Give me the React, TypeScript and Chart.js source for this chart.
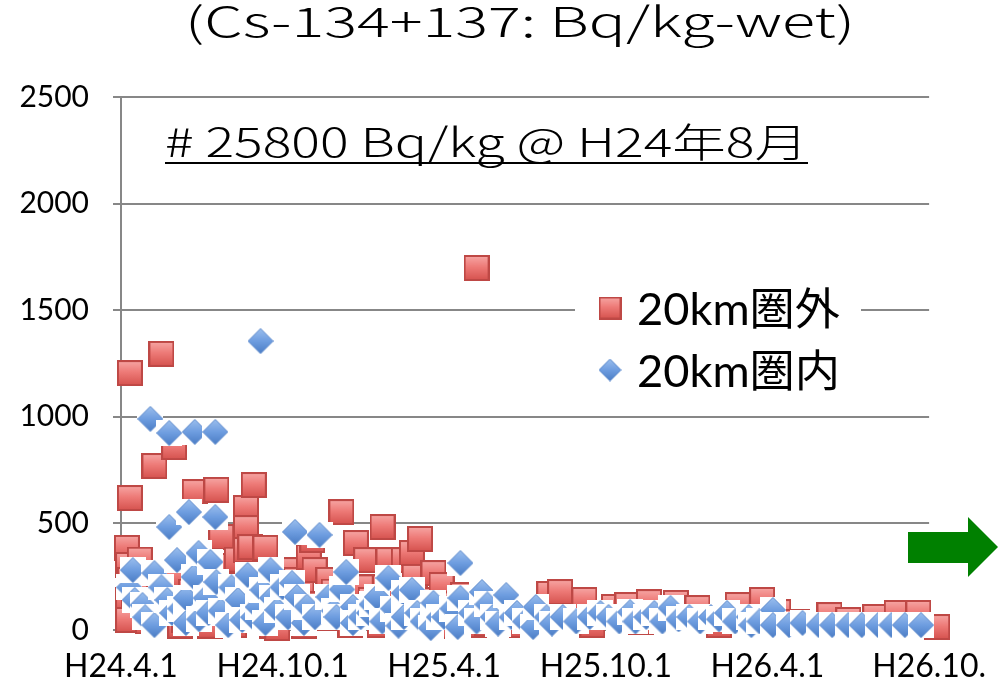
import React, { useEffect, useRef } from 'react';
import { Chart, registerables } from 'chart.js';

Chart.register(...registerables);

// ---- Data (x = months since H24.4.1, y = Bq/kg-wet) ----
const xTickLabels = ['H24.4.1', 'H24.10.1', 'H25.4.1', 'H25.10.1', 'H26.4.1', 'H26.10.'];
const yTickValues = [0, 500, 1000, 1500, 2000, 2500];

const seriesNames = ['20km圏外', '20km圏内'];
const titleText = '(Cs-134+137: Bq/kg-wet)';
const noteText = '# 25800 Bq/kg @ H24年8月';

const outsideMonths = [
  0.22, 0.26, 0.33, 0.26, 0.26, 0.5, 0.7, 0.33, 0.33, 0.88, 1.0, 1.1, 1.24, 1.42, 1.42, 1.5,
  1.6, 1.97, 1.97, 2.0, 2.2, 2.34, 2.6, 2.74, 2.88, 3.0, 3.07, 3.3, 3.43, 3.54, 3.72, 3.8,
  3.98, 4.0, 4.2, 4.3, 4.5, 4.6, 4.64, 4.64, 4.64, 4.8, 4.93, 5.0, 5.15, 5.36, 5.4, 5.6,
  5.8, 6.0, 6.2, 6.3, 6.5, 6.7, 6.8, 6.97, 7.1, 7.19, 7.4, 7.55, 7.7, 7.9, 8.18, 8.18,
  8.3, 8.5, 8.72, 8.9, 9.1, 9.27, 9.4, 9.6, 9.71, 9.8, 9.93, 10.2, 10.3, 10.5, 10.7, 10.8,
  10.9, 11.1, 11.3, 11.6, 11.6, 11.9, 12.0, 12.2, 12.4, 12.7, 13.1, 13.2, 13.6, 14.0, 14.4,
  14.9, 15.5, 15.9, 16.3, 17.2, 17.5, 18.3, 18.8, 19.3, 19.6, 20.6, 21.1, 21.4, 22.2, 22.9,
  23.8, 24.4, 25.1, 26.3, 27.0, 28.0, 28.8, 29.6, 30.3,
];
const outsideValues = [
  385, 305, 235, 141, 47, 170, 330, 619, 1205, 84, 40, 180, 769, 23, 211, 1295,
  90, 858, 141, 250, 20, 47, 180, 647, 117, 60, 328, 20, 258, 657, 436, 300,
  141, 80, 23, 330, 211, 120, 572, 478, 375, 389, 680, 250, 70, 385, 150, 20,
  9, 141, 281, 60, 235, 190, 20, 342, 422, 281, 120, 56, 235, 180, 553, 141,
  80, 23, 408, 200, 328, 141, 60, 23, 483, 200, 328, 84, 20, 328, 120, 361,
  249, 427, 60, 267, 141, 211, 20, 70, 120, 164, 23, 1698, 30, 94, 50,
  23, 94, 169, 178, 141, 23, 108, 117, 38, 131, 127, 56, 103, 23, 117,
  141, 84, 38, 70, 47, 61, 80, 80, 14,
];

const insideMonths = [
  0.3, 0.44, 0.51, 0.8, 0.9, 1.09, 1.24, 1.24, 1.5, 1.72, 1.79, 1.79, 1.9, 2.08, 2.2, 2.41,
  2.41, 2.52, 2.7, 2.74, 2.88, 2.9, 3.14, 3.25, 3.32, 3.5, 3.5, 3.54, 3.7, 3.98, 4.1, 4.34,
  4.5, 4.7, 4.9, 5.07, 5.18, 5.25, 5.36, 5.55, 5.6, 5.8, 6.0, 6.2, 6.35, 6.46, 6.53, 6.79,
  6.9, 7.2, 7.37, 7.7, 7.9, 8.0, 8.2, 8.36, 8.61, 8.61, 8.9, 9.2, 9.3, 9.5, 9.7, 9.93,
  10.1, 10.3, 10.5, 10.5, 10.8, 11.0, 11.2, 11.5, 11.6, 11.8, 12.0, 12.3, 12.5, 12.6, 12.6,
  13.0, 13.2, 13.4, 13.6, 13.8, 14.0, 14.3, 14.5, 14.7, 15.0, 15.3, 15.4, 15.8, 16.0, 16.4,
  16.9, 17.4, 17.8, 18.1, 18.5, 18.9, 19.1, 19.5, 19.8, 20.1, 20.4, 20.7, 21.1, 21.5, 21.9,
  22.2, 22.5, 22.8, 23.3, 23.4, 23.7, 24.2, 24.2, 24.8, 25.3, 25.9, 26.4, 27.0, 27.5, 28.1,
  28.6, 29.1, 29.7,
];
const insideValues = [
  200, 281, 141, 117, 60, 990, 267, 23, 200, 141, 924, 483, 80, 328, 100, 150,
  33, 553, 249, 929, 361, 50, 150, 80, 319, 929, 530, 225, 90, 23, 200, 141,
  47, 258, 60, 108, 1355, 188, 33, 281, 150, 94, 200, 60, 220, 460, 155, 33,
  110, 60, 446, 155, 90, 61, 190, 272, 108, 33, 60, 80, 120, 155, 40, 244,
  100, 20, 173, 61, 188, 80, 40, 9, 127, 60, 61, 100, 14, 314, 150,
  80, 40, 178, 120, 61, 30, 164, 60, 80, 40, 14, 108, 60, 30, 61,
  40, 61, 80, 61, 40, 84, 40, 61, 80, 40, 103, 50, 61, 40, 61,
  50, 80, 40, 61, 23, 40, 94, 23, 23, 33, 23, 23, 23, 23, 23,
  23, 23, 23,
];

const toPoints = (xs: number[], ys: number[]) => xs.map((x, i) => ({ x, y: ys[i] }));

function makeSquare(size: number): HTMLCanvasElement {
  const c = document.createElement('canvas');
  c.width = size;
  c.height = size;
  const ctx = c.getContext('2d')!;
  const g = ctx.createLinearGradient(0, 0, 0, size);
  g.addColorStop(0, '#F7A9A7');
  g.addColorStop(0.45, '#EE7B78');
  g.addColorStop(1, '#D4504C');
  ctx.fillStyle = g;
  ctx.fillRect(1, 1, size - 2, size - 2);
  ctx.strokeStyle = '#BE4845';
  ctx.lineWidth = 2;
  ctx.strokeRect(1, 1, size - 2, size - 2);
  return c;
}

function makeDiamond(size: number, box: boolean): HTMLCanvasElement {
  const c = document.createElement('canvas');
  c.width = size;
  c.height = size;
  const ctx = c.getContext('2d')!;
  if (box) {
    ctx.fillStyle = '#FFFFFF';
    ctx.fillRect(0, 0, size, size);
  }
  const h = size / 2;
  const g = ctx.createLinearGradient(0, 0, 0, size);
  g.addColorStop(0, '#9DC0EE');
  g.addColorStop(0.5, '#6E9DE0');
  g.addColorStop(1, '#4A7CC4');
  ctx.beginPath();
  ctx.moveTo(h, 0.5);
  ctx.lineTo(size - 0.5, h);
  ctx.lineTo(h, size - 0.5);
  ctx.lineTo(0.5, h);
  ctx.closePath();
  ctx.fillStyle = g;
  ctx.fill();
  ctx.strokeStyle = '#5A88CC';
  ctx.lineWidth = 1;
  ctx.stroke();
  return c;
}

const TEXT_FONT = '"Noto Sans CJK JP", "DejaVu Sans", sans-serif';
const LABEL_FONT = 'Lato, "Noto Sans CJK JP", sans-serif';

function fitText(ctx: CanvasRenderingContext2D, text: string, font: string, x: number, y: number, width: number) {
  ctx.font = font;
  const w = ctx.measureText(text).width;
  ctx.save();
  ctx.translate(x, y);
  ctx.scale(width / w, 1);
  ctx.fillText(text, 0, 0);
  ctx.restore();
}

export default function App() {
  const ref = useRef<HTMLCanvasElement | null>(null);

  useEffect(() => {
    if (!ref.current) return;
    const squareImg = makeSquare(26);
    const diamondImg = makeDiamond(26, true);
    const legendSquare = makeSquare(23);
    const legendDiamond = makeDiamond(23, false);

    const overlay = {
      id: 'overlay',
      afterDraw(chart: any) {
        const ctx = chart.ctx as CanvasRenderingContext2D;
        ctx.save();
        ctx.fillStyle = '#000';
        ctx.textBaseline = 'alphabetic';
        ctx.textAlign = 'left';
        // Title
        fitText(ctx, titleText, `300 41px ${TEXT_FONT}`, 185, 37, 670);
        // Note
        fitText(ctx, noteText, `300 40px ${TEXT_FONT}`, 165, 157, 643);
        ctx.fillRect(165, 162, 643, 2);

        // Legend
        ctx.fillStyle = '#FFFFFF';
        ctx.fillRect(575, 283, 286, 112);
        ctx.drawImage(legendSquare, 610 - 11.5, 308 - 11.5);
        ctx.drawImage(legendDiamond, 610 - 11.5, 370 - 11.5);
        ctx.fillStyle = '#000';
        fitText(ctx, seriesNames[0], `44px ${LABEL_FONT}`, 637, 325, 203);
        fitText(ctx, seriesNames[1], `44px ${LABEL_FONT}`, 637, 387, 203);

        // Green arrow
        ctx.fillStyle = '#008000';
        ctx.beginPath();
        ctx.moveTo(908, 532);
        ctx.lineTo(968, 532);
        ctx.lineTo(968, 517);
        ctx.lineTo(998, 547);
        ctx.lineTo(968, 577);
        ctx.lineTo(968, 563);
        ctx.lineTo(908, 563);
        ctx.closePath();
        ctx.fill();
        ctx.restore();
      },
    };

    const chart = new Chart(ref.current, {
      type: 'scatter',
      data: {
        datasets: [
          {
            label: seriesNames[0],
            data: toPoints(outsideMonths, outsideValues),
            pointStyle: squareImg as any,
            pointRadius: 12,
            order: 2,
            clip: false as any,
          },
          {
            label: seriesNames[1],
            data: toPoints(insideMonths, insideValues),
            pointStyle: diamondImg as any,
            pointRadius: 12,
            order: 1,
            clip: false as any,
          },
        ],
      },
      options: {
        responsive: false,
        animation: false,
        layout: { padding: { top: 97, right: 60, left: 0, bottom: 0 } },
        plugins: {
          legend: { display: false },
          tooltip: { enabled: false },
          title: { display: false },
        },
        scales: {
          x: {
            type: 'linear',
            min: 0,
            max: 30,
            afterFit: (s: any) => { s.height = 58; },
            afterBuildTicks: (s: any) => {
              s.ticks = xTickLabels.map((_, i) => ({ value: i * 6 }));
            },
            ticks: {
              callback: (v: any) => xTickLabels[Math.round(Number(v) / 6)] ?? '',
              font: { family: LABEL_FONT, size: 32 },
              color: '#000',
              padding: 17,
              maxRotation: 0,
              autoSkip: false,
            },
            grid: { display: true, color: 'rgba(0,0,0,0)', drawTicks: false },
            border: { display: true, color: '#878787', width: 2 },
          },
          y: {
            type: 'linear',
            min: 0,
            max: 2500,
            afterFit: (s: any) => { s.width = 121; },
            afterBuildTicks: (s: any) => {
              s.ticks = yTickValues.map((v) => ({ value: v }));
            },
            ticks: {
              callback: (v: any) => String(v),
              font: { family: LABEL_FONT, size: 30 },
              color: '#000',
              padding: 24,
            },
            grid: { color: '#878787', lineWidth: 2, tickLength: 8, drawTicks: true },
            border: { display: true, color: '#878787', width: 2 },
          },
        },
      },
      plugins: [overlay],
    });
    return () => chart.destroy();
  }, []);

  return (
    <div style={{ position: 'fixed', left: 0, top: 0, width: 1003, height: 688, background: '#fff' }}>
      <canvas ref={ref} width={1003} height={688} style={{ display: 'block' }} />
    </div>
  );
}
